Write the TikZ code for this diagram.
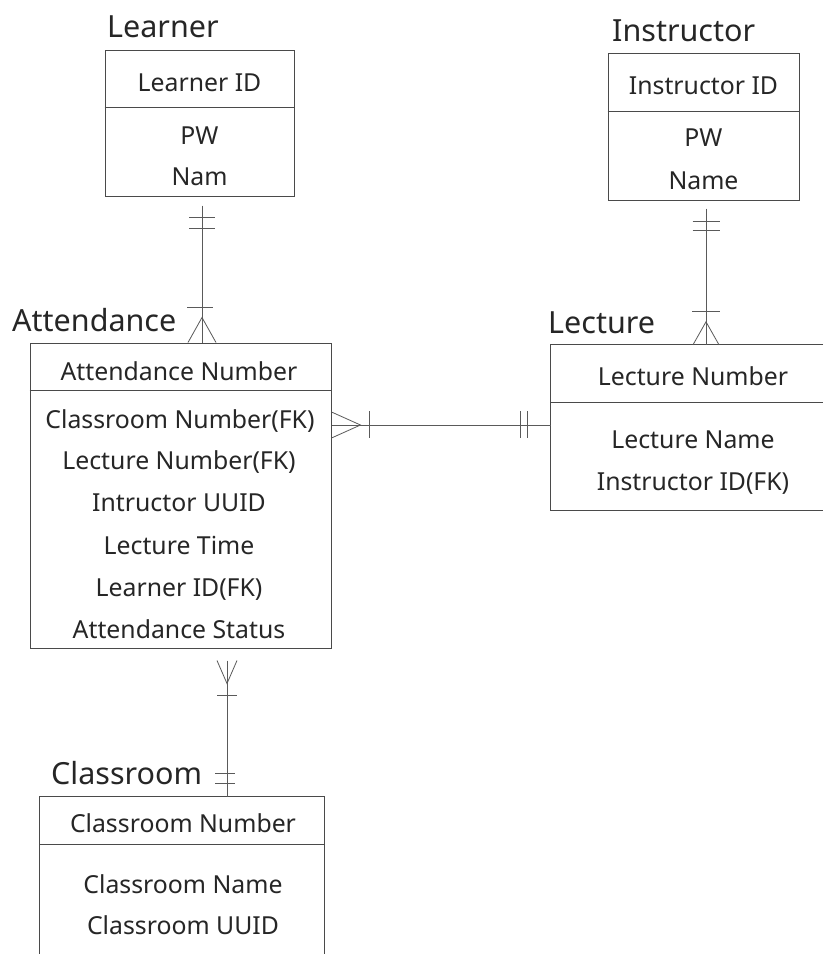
\documentclass[tikz,border=0pt]{standalone}
\usepackage{fontspec}
\setmainfont{Noto Sans}
\usetikzlibrary{calc}
\definecolor{txtc}{HTML}{262626}
\definecolor{boxc}{HTML}{4A4A4A}
\definecolor{connc}{HTML}{5A5A5A}
\begin{document}
\begin{tikzpicture}[x=1pt,y=-1pt,
  entity/.style={draw=boxc, line width=1pt, rectangle, inner sep=0pt},
  openentity/.style={rectangle, inner sep=0pt},
  divider/.style={draw=boxc, line width=1pt},
  attr/.style={font=\fontsize{24.8}{28}\selectfont, text=txtc, inner sep=0pt, text height=17.7pt, text depth=0pt, anchor=center},
  ttl/.style={font=\fontsize{30.5}{34}\selectfont, text=txtc, inner sep=0pt, anchor=base west},
  conn/.style={draw=connc, line width=0.8pt}]
\useasboundingbox (0,0) rectangle (823,954);
\fill[white] (0,0) rectangle (823,954);
\coordinate (rightedge) at (823,0);
\coordinate (bottomedge) at (0,954);

% ---------- Learner ----------
\node[ttl] (tlearner) at (107,37) {Learner};
\node[entity, minimum width=189pt, minimum height=146pt] (learner) at (199.5,123) {};
\draw[divider] (learner.west |- 0,107) -- (learner.east |- 0,107);
\node[attr] (lid) at (199.5,83) {Learner ID};
\node[attr] (lpw) at (199.5,136) {PW};
\node[attr] (lnm) at (199.5,177) {Nam};

% ---------- Instructor ----------
\node[ttl] (tinstr) at (612,41) {Instructor};
\node[entity, minimum width=191pt, minimum height=147pt] (instr) at (703.5,126.5) {};
\draw[divider] (instr.west |- 0,111) -- (instr.east |- 0,111);
\node[attr] (iid) at (703.5,86) {Instructor ID};
\node[attr] (ipw) at (703.5,138) {PW};
\node[attr] (inm) at (703.5,181) {Name};

% ---------- Attendance ----------
\node[ttl] (tatt) at (12,331) {Attendance};
\node[entity, minimum width=301pt, minimum height=305pt] (att) at (180.5,495.5) {};
\draw[divider] (att.west |- 0,390) -- (att.east |- 0,390);
\node[attr] (anum) at (179,372) {Attendance Number};
\node[attr] (acn) at (180,420) {Classroom Number(FK)};
\node[attr] (aln) at (179,461) {Lecture Number(FK)};
\node[attr] (aiu) at (179,503) {Intructor UUID};
\node[attr] (alt) at (179,546) {Lecture Time};
\node[attr] (alid) at (179,588) {Learner ID(FK)};
\node[attr] (ast) at (179,630) {Attendance Status};

% ---------- Lecture (runs off the right edge) ----------
\node[ttl] (tlect) at (548,333) {Lecture};
\node[openentity, minimum width=284pt, minimum height=165pt] (lect) at (693,427.5) {};
\draw[divider] (lect.north -| rightedge) -- (lect.north west) -- (lect.south west) -- (lect.south -| rightedge);
\draw[divider] (lect.west |- 0,402) -- (rightedge |- 0,402);
\node[attr] (lnum) at (693,377) {Lecture Number};
\node[attr] (lname) at (693,440) {Lecture Name};
\node[attr] (liid) at (693,482) {Instructor ID(FK)};

% ---------- Classroom (runs off the bottom edge) ----------
\node[ttl] (tclass) at (51,784) {Classroom};
\node[openentity, minimum width=284pt, minimum height=173pt] (cls) at (182,883.5) {};
\draw[divider] (cls.west |- bottomedge) -- (cls.north west) -- (cls.north east) -- (cls.east |- bottomedge);
\draw[divider] (cls.west |- 0,844) -- (cls.east |- 0,844);
\node[attr] (cnum) at (183,824) {Classroom Number};
\node[attr] (cname) at (183,885) {Classroom Name};
\node[attr] (cuuid) at (183,926) {Classroom UUID};

% ---------- Learner -- Attendance ----------
\coordinate (la) at ([xshift=2.5pt,yshift=-9pt]learner.south);
\coordinate (lb) at (att.north -| la);
\draw[conn] (la) -- (lb);
\draw[conn] ($(la)+(-13,12)$) -- ++(26,0);
\draw[conn] ($(la)+(-13,23)$) -- ++(26,0);
\draw[conn] ($(lb)+(-15,-35)$) -- ++(26,0);
\draw[conn] ($(lb)+(-14,0)$) -- ($(lb)+(0,-25)$) -- ($(lb)+(14,0)$);

% ---------- Instructor -- Lecture ----------
\coordinate (ia) at ([xshift=2.5pt,yshift=-8pt]instr.south);
\coordinate (ib) at (lect.north -| ia);
\draw[conn] (ia) -- (ib);
\draw[conn] ($(ia)+(-13.5,13)$) -- ++(27,0);
\draw[conn] ($(ia)+(-13.5,22)$) -- ++(27,0);
\draw[conn] ($(ib)+(-14,-33)$) -- ++(28,0);
\draw[conn] ($(ib)+(-13,0)$) -- ($(ib)+(0,-23)$) -- ($(ib)+(13,0)$);

% ---------- Attendance -- Lecture ----------
\coordinate (aa) at ([yshift=70.5pt]att.east);
\coordinate (ab) at (lect.west |- aa);
\draw[conn] (aa) -- (ab);
\draw[conn] ($(aa)+(0,-13)$) -- ($(aa)+(29,0)$) -- ($(aa)+(0,13)$);
\draw[conn] ($(aa)+(38,-14)$) -- ++(0,27);
\draw[conn] ($(ab)+(-30,-14)$) -- ++(0,27);
\draw[conn] ($(ab)+(-23,-14)$) -- ++(0,27);

% ---------- Attendance -- Classroom ----------
\coordinate (ca) at ([xshift=46.5pt,yshift=-12pt]att.south);
\coordinate (cb) at (cls.north -| ca);
\draw[conn] (ca) -- (cb);
\draw[conn] ($(ca)+(-10,0)$) -- ($(ca)+(0,23)$) -- ($(ca)+(10,0)$);
\draw[conn] ($(ca)+(-10,35)$) -- ++(20,0);
\draw[conn] ($(cb)+(-12,-23)$) -- ++(20,0);
\draw[conn] ($(cb)+(-12,-13)$) -- ++(20,0);
\end{tikzpicture}
\end{document}
